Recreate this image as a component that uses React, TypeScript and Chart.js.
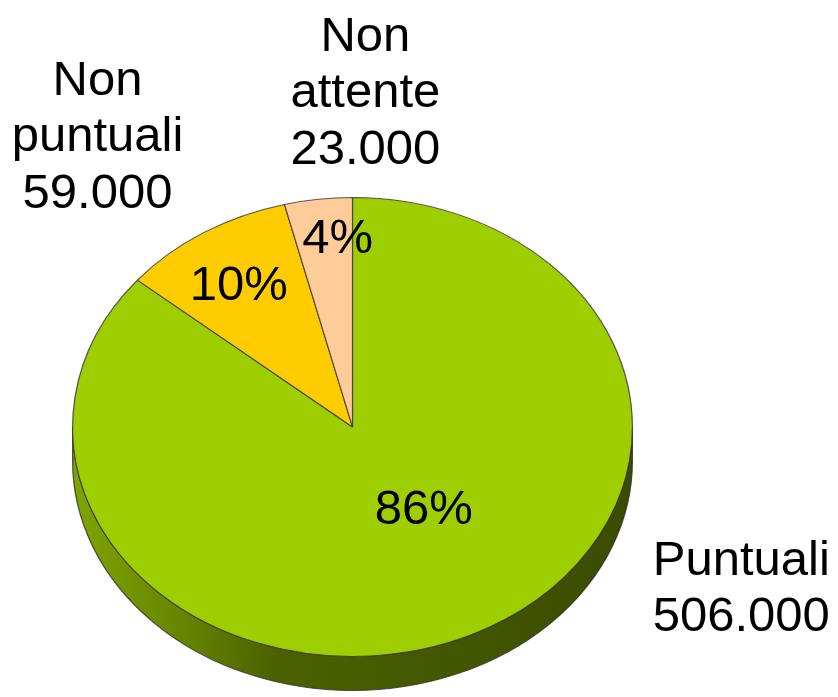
import React, { useEffect, useRef } from "react";
import { Chart, registerables } from "chart.js";

Chart.register(...registerables);

// ---- data ----
const CATEGORIES = ["Puntuali", "Non puntuali", "Non attente"];
const VALUES = [506000, 59000, 23000];
const COLORS = ["#9fce00", "#ffcc00", "#ffcc99"];

// label anchors, as fractions of the ellipse radii from the pie centre (first-line baseline)
const PCT_POS = [[0.255, 0.422], [-0.406, -0.552], [-0.053, -0.757]];
const NAME_POS = [[1.389, 0.643], [-0.911, -1.448], [0.046, -1.639]];

const SIDE_DEPTH = 34;
const FONT = '49px "Liberation Sans", Arial, sans-serif';
const LINE_H = 56.5;

function fmt(v: number): string {
  return String(v).replace(/\B(?=(\d{3})+(?!\d))/g, ".");
}

function shade(hex: string, f: number): string {
  const n = parseInt(hex.slice(1), 16);
  const r = Math.round(((n >> 16) & 255) * f);
  const g = Math.round(((n >> 8) & 255) * f);
  const b = Math.round((n & 255) * f);
  return `rgb(${r},${g},${b})`;
}

const pie3d = {
  id: "pie3d",
  beforeDatasetsDraw(chart: any) {
    const ctx = chart.ctx;
    const area = chart.chartArea;
    const meta = chart.getDatasetMeta(0);
    const first = meta.data[0];
    const cx = first.x, cy = first.y, r = first.outerRadius;
    const sx = area.width / area.height;
    ctx.save();
    ctx.translate(cx, 0);
    ctx.scale(sx, 1);
    ctx.translate(-cx, 0);
    meta.data.forEach((arc: any, i: number) => {
      const s = arc.startAngle, e = arc.endAngle;
      for (const off of [-2 * Math.PI, 0, 2 * Math.PI]) {
        const lo = Math.max(s, off);
        const hi = Math.min(e, off + Math.PI);
        if (hi <= lo) continue;
        const grad = ctx.createLinearGradient(cx - r, 0, cx + r, 0);
        const c = COLORS[i];
        grad.addColorStop(0, shade(c, 0.8));
        grad.addColorStop(0.2, shade(c, 0.64));
        grad.addColorStop(0.36, shade(c, 0.47));
        grad.addColorStop(1, shade(c, 0.37));
        ctx.beginPath();
        ctx.arc(cx, cy + SIDE_DEPTH, r, lo, hi);
        ctx.arc(cx, cy, r, hi, lo, true);
        ctx.closePath();
        ctx.fillStyle = grad;
        ctx.fill();
        ctx.lineWidth = 1;
        ctx.strokeStyle = "rgba(40,40,40,0.8)";
        ctx.stroke();
      }
    });
  },
  afterDatasetsDraw(chart: any) {
    chart.ctx.restore();
  },
  afterDraw(chart: any) {
    const ctx = chart.ctx;
    const area = chart.chartArea;
    const meta = chart.getDatasetMeta(0);
    const first = meta.data[0];
    const cx = first.x, cy = first.y;
    const ry = first.outerRadius;
    const rx = ry * (area.width / area.height);
    const total = VALUES.reduce((a, b) => a + b, 0);
    ctx.save();
    ctx.font = FONT;
    ctx.fillStyle = "#000";
    ctx.textAlign = "center";
    ctx.textBaseline = "alphabetic";
    VALUES.forEach((v, i) => {
      const pct = Math.round((v / total) * 100) + "%";
      ctx.fillText(pct, cx + PCT_POS[i][0] * rx, cy + PCT_POS[i][1] * ry);
      const lines = CATEGORIES[i].split(" ").concat([fmt(v)]);
      const x = cx + NAME_POS[i][0] * rx;
      const y0 = cy + NAME_POS[i][1] * ry;
      lines.forEach((ln, k) => ctx.fillText(ln, x, y0 + k * LINE_H));
    });
    ctx.restore();
  },
};

export default function App() {
  const ref = useRef<HTMLCanvasElement | null>(null);
  useEffect(() => {
    if (!ref.current) return;
    const chart = new Chart(ref.current, {
      type: "pie",
      data: {
        labels: CATEGORIES,
        datasets: [
          {
            data: VALUES,
            backgroundColor: COLORS,
            borderColor: "rgba(60,60,60,0.85)",
            borderWidth: 1,
            clip: false as any,
          } as any,
        ],
      },
      options: {
        animation: false,
        responsive: true,
        maintainAspectRatio: false,
        layout: { padding: { left: 72, right: 205, top: 197, bottom: 40 } },
        plugins: { legend: { display: false }, tooltip: { enabled: false } },
        events: [],
      },
      plugins: [pie3d],
    });
    return () => chart.destroy();
  }, []);
  return (
    <div style={{ position: "fixed", left: 0, top: 0, width: 838, height: 697, background: "#fff" }}>
      <canvas ref={ref} />
    </div>
  );
}
